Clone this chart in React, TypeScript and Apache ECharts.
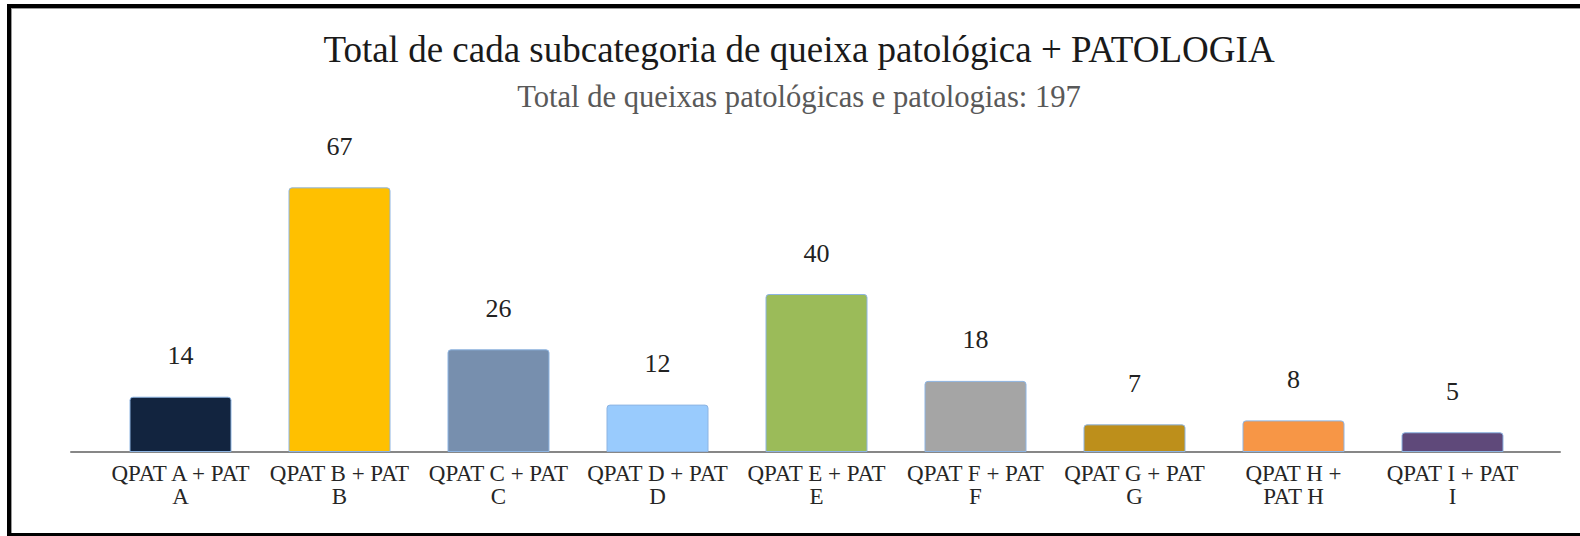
import React, { useEffect, useRef } from "react";
import * as echarts from "echarts";

const TITLE = "Total de cada subcategoria de queixa patológica + PATOLOGIA";
const SUBTITLE = "Total de queixas patológicas e patologias: 197";
const categories = [
  "QPAT A + PAT\nA",
  "QPAT B + PAT\nB",
  "QPAT C + PAT\nC",
  "QPAT D + PAT\nD",
  "QPAT E + PAT\nE",
  "QPAT F + PAT\nF",
  "QPAT G + PAT\nG",
  "QPAT H +\nPAT H",
  "QPAT I + PAT\nI",
];
const values = [14, 67, 26, 12, 40, 18, 7, 8, 5];
const colors = [
  "#12243f",
  "#ffc000",
  "#778fae",
  "#99cbfd",
  "#9bbb59",
  "#a5a5a5",
  "#bd8f1b",
  "#f79646",
  "#5f497a",
];

const FONT = "'Liberation Serif', 'Times New Roman', serif";

export default function App() {
  const ref = useRef<HTMLDivElement>(null);
  useEffect(() => {
    if (!ref.current) return;
    const chart = echarts.init(ref.current, undefined, { renderer: "svg" });
    chart.setOption({
      animation: false,
      graphic: [
        {
          type: "text",
          x: 799,
          y: 49,
          style: {
            text: TITLE,
            font: `37px ${FONT}`,
            fill: "#1a1a1a",
            textAlign: "center",
            textVerticalAlign: "middle",
          },
        },
        {
          type: "text",
          x: 799,
          y: 97,
          style: {
            text: SUBTITLE,
            font: `30.6px ${FONT}`,
            fill: "#595959",
            textAlign: "center",
            textVerticalAlign: "middle",
          },
        },
      ],
      grid: [
        { left: 101, right: 48, top: 136, bottom: 536 - 452 },
        { left: 71, right: 20, top: 136, bottom: 536 - 452 },
      ],
      xAxis: [
        {
          type: "category",
          gridIndex: 0,
          data: categories,
          axisLine: { show: false },
          axisTick: { show: false },
          axisLabel: {
            interval: 0,
            margin: 10,
            fontFamily: FONT,
            fontSize: 23,
            lineHeight: 23,
            color: "#262626",
          },
        },
        {
          type: "category",
          gridIndex: 1,
          data: [""],
          axisLine: { lineStyle: { color: "#878787", width: 2 } },
          axisTick: { show: false },
          axisLabel: { show: false },
        },
      ],
      yAxis: [
        { type: "value", gridIndex: 0, min: 0, max: 80, show: false, splitLine: { show: false } },
        { type: "value", gridIndex: 1, min: 0, max: 80, show: false, splitLine: { show: false } },
      ],
      series: [
        {
          type: "bar",
          xAxisIndex: 0,
          yAxisIndex: 0,
          barWidth: 102,
          z: 3,
          data: values.map((v, i) => ({
            value: v,
            itemStyle: { color: colors[i] },
          })),
          itemStyle: {
            borderColor: "#8db4e2",
            borderWidth: 1,
            borderRadius: [3, 3, 0, 0],
          },
          label: {
            show: true,
            position: "top",
            distance: 28,
            fontFamily: FONT,
            fontSize: 26,
            color: "#222222",
          },
        },
      ],
    });
    return () => chart.dispose();
  }, []);
  return (
    <div style={{ position: "fixed", left: 0, top: 0, width: 1580, height: 536, background: "#fff", overflow: "hidden" }}>
      <div
        style={{
          position: "absolute",
          left: 7,
          top: 4,
          width: 1620,
          height: 533,
          boxSizing: "border-box",
          border: "4px solid #000",
          boxShadow: "inset 1px 1px 0 #9a9a9a",
        }}
      />
      <div ref={ref} style={{ position: "absolute", left: 0, top: 0, width: 1580, height: 536 }} />
    </div>
  );
}
